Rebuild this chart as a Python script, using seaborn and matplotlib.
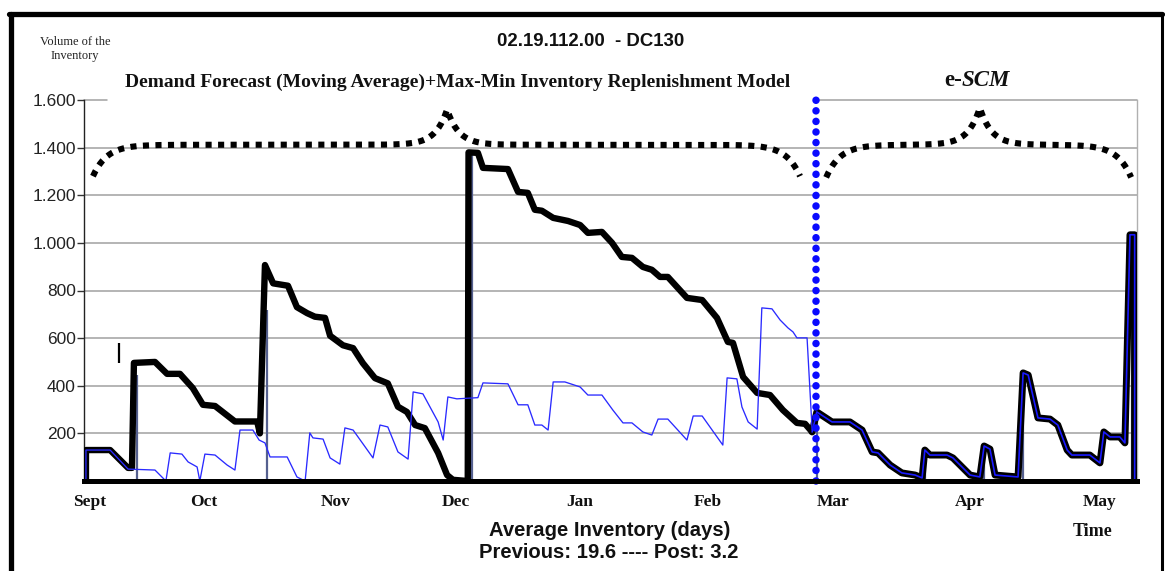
import numpy as np
import pandas as pd
import matplotlib
matplotlib.use("Agg")
import matplotlib.pyplot as plt
import seaborn as sns
from matplotlib.lines import Line2D

# ---------------- data (day index from start of September) ----------------
month_labels = ["Sept", "Oct", "Nov", "Dec", "Jan", "Feb", "Mar", "Apr", "May"]
month_pos = [1.5, 30.8, 64.6, 95.4, 127.2, 160.0, 192.0, 227.2, 260.5]

y_ticks = [200, 400, 600, 800, 1000, 1200, 1400, 1600]
y_labels = ["200", "400", "600", "800", "1.000", "1.200", "1.400", "1.600"]

# inventory before e-SCM (thick black)
pre_day = [0.5, 0.5, 6.7, 11.3, 12.3, 12.8, 18.2, 21.3, 24.6, 27.9, 30.5, 33.6,
           38.7, 44.4, 45.1, 46.4, 48.5, 52.3, 54.6, 57.2, 59.2, 61.8, 63.1,
           66.4, 69.0, 71.5, 74.6, 77.9, 80.5, 82.8, 84.9, 87.4, 90.8, 93.1,
           94.6, 98.4, 98.6, 101.0, 102.3, 108.7, 111.3, 113.8, 115.6, 117.4,
           120.3, 124.1, 127.2, 129.2, 132.8, 135.4, 137.9, 140.5, 143.3,
           145.6, 147.7, 149.7, 154.6, 158.5, 162.3, 165.1, 166.4, 169.0,
           172.6, 175.9, 179.2, 182.8, 184.9, 186.7]
pre_inv = [0, 130, 130, 55, 55, 496, 500, 450, 450, 390, 320, 315,
           250, 250, 200, 907, 830, 820, 730, 705, 690, 685, 610,
           570, 558, 495, 432, 410, 312, 290, 235, 222, 118, 25,
           5, 0, 1380, 1378, 1315, 1310, 1214, 1210, 1139, 1135,
           1105, 1092, 1075, 1042, 1046, 1000, 941, 937, 899,
           887, 857, 857, 769, 760, 685, 584, 580, 437,
           370, 361, 298, 244, 240, 206]

# inventory with e-SCM (black with blue core)
post_day = [186.7, 187.9, 191.8, 196.4, 199.5, 202.1, 203.6, 206.7, 209.7,
            213.1, 214.9, 215.6, 216.9, 221.3, 222.8, 227.2, 229.7, 230.8,
            232.3, 233.6, 239.5, 240.8, 242.1, 244.6, 247.7, 249.7, 252.1,
            253.3, 257.9, 260.5, 261.5, 263.1, 265.6, 266.9, 268.2, 269.4,
            269.4]
post_inv = [206, 290, 248, 248, 214, 122, 118, 67, 34,
            25, 13, 130, 109, 109, 97, 25, 17, 147,
            134, 25, 17, 454, 445, 265, 260, 235, 130,
            109, 109, 76, 206, 185, 185, 160, 1034, 1034,
            0]

# thin blue series
dem_day = [0.5, 0.5, 6.7, 11.3, 18.2, 21.0, 22.1, 25.1, 26.7, 29.0, 29.7,
           31.0, 33.6, 36.7, 38.7, 40.0, 43.3, 44.9, 46.4, 47.7, 52.1, 54.6,
           56.7, 57.9, 58.7, 61.3, 63.1, 65.6, 66.9, 69.0, 72.1, 74.1, 75.9,
           77.9, 80.5, 83.1, 84.4, 86.9, 90.8, 92.1, 93.3, 95.6, 101.0, 102.3,
           108.7, 111.3, 113.8, 115.6, 117.4, 119.0, 120.3, 123.3, 127.2,
           129.2, 132.8, 135.6, 138.2, 140.5, 143.3, 145.6, 147.2, 149.7,
           154.6, 156.2, 158.5, 161.8, 163.8, 164.9, 167.4, 168.7, 170.3,
           172.6, 173.8, 176.4, 178.5, 180.5, 181.8, 182.8, 185.4, 186.7]
dem_inv = [0, 130, 130, 50, 46, 0, 118, 113, 80, 59, 0,
           113, 109, 67, 46, 214, 214, 172, 160, 101, 101, 17,
           0, 202, 181, 176, 97, 71, 223, 214, 143, 97, 235,
           227, 122, 92, 374, 366, 248, 172, 353, 345, 350, 412,
           408, 320, 320, 235, 235, 214, 416, 416, 395,
           361, 361, 298, 244, 244, 206, 193, 260, 260,
           172, 273, 273, 197, 151, 433, 429, 311, 248,
           218, 727, 723, 676, 643, 626, 601, 601, 214]

# replenishment receipts (thin vertical bars)
rec_day = [13.6, 46.8, 99.6, 187.9, 215.6, 230.8, 240.8, 268.6]
rec_qty = [445, 718, 1380, 290, 130, 147, 454, 900]

switch_day = 187.7   # start of e-SCM
cursor_day = [9.0]
cursor_lo = [496]
cursor_hi = [580]

# brace parameters: start, end, middle, end level, plateau, peak
braces = [
    dict(x0=2.3, x1=183.6, xm=93.1, y_end=1280, y_lvl=1412, y_peak=1560),
    dict(x0=190.3, x1=268.5, xm=229.7, y_end=1275, y_lvl=1412, y_peak=1568),
]

# ---------------- figure ----------------
W, H = 1165, 571
sns.set_theme(style="white")
plt.rcParams["font.family"] = ["Liberation Sans", "DejaVu Sans"]

fig = plt.figure(figsize=(W / 100, H / 100), dpi=100)
fig.patch.set_facecolor("white")

def fx(px):
    return px / W

def fy(py):
    return 1 - py / H

ax = fig.add_axes([fx(84), fy(481), fx(1137) - fx(84), fy(100) - fy(481)])
ax.set_facecolor("white")
ax.set_xlim(0, 270)
ax.set_ylim(0, 1600)

# grid lines
for v in y_ticks[:-1]:
    ax.axhline(v, color="#a0a0a0", lw=1.1, zorder=0)
ax.plot([0, 5.9], [1600, 1600], color="#a0a0a0", lw=1.1, zorder=0, clip_on=False)
ax.plot([switch_day, 270], [1600, 1600], color="#a0a0a0", lw=1.1, zorder=0, clip_on=False)

# receipts
ax.vlines(rec_day, 0, rec_qty, color="#55608f", lw=1.6, zorder=2)

# series
df_pre = pd.DataFrame({"day": pre_day, "inv": pre_inv})
df_post = pd.DataFrame({"day": post_day, "inv": post_inv})
df_dem = pd.DataFrame({"day": dem_day, "inv": dem_inv})

sns.lineplot(data=df_pre, x="day", y="inv", sort=False, estimator=None,
             color="black", lw=4.6, ax=ax, zorder=3,
             solid_joinstyle="round", solid_capstyle="butt")
sns.lineplot(data=df_post, x="day", y="inv", sort=False, estimator=None,
             color="black", lw=5.0, ax=ax, zorder=3, solid_joinstyle="round")
sns.lineplot(data=df_post, x="day", y="inv", sort=False, estimator=None,
             color="#1a1aff", lw=1.2, ax=ax, zorder=4, solid_joinstyle="round")
sns.lineplot(data=df_dem, x="day", y="inv", sort=False, estimator=None,
             color="#2a2aff", lw=0.95, ax=ax, zorder=4)

# curly braces (dotted)
for b in braces:
    xs = np.linspace(b["x0"], b["x1"], 600)
    d = b["y_lvl"] - b["y_end"]
    ys = (b["y_lvl"]
          - d * np.exp(-(xs - b["x0"]) / 3.6)
          - d * np.exp(-(b["x1"] - xs) / 3.6)
          + (b["y_peak"] - b["y_lvl"]) * np.exp(-np.abs(xs - b["xm"]) / 3.0))
    ax.plot(xs, ys, color="black", lw=4.4, linestyle=(0, (1.0, 1.05)),
            dash_capstyle="butt", zorder=5, clip_on=False)

# e-SCM switch line
ax.plot([switch_day, switch_day], [0, 1610], color="#0a0aff", lw=5.4,
        linestyle=(0, (0.01, 1.4)), dash_capstyle="round", zorder=6,
        clip_on=False)

# cursor mark
ax.vlines(cursor_day, cursor_lo, cursor_hi, color="black", lw=1.6, zorder=5)

# axes styling
ax.set_xlabel("")
ax.set_ylabel("")
ax.set_xticks(month_pos)
ax.set_xticklabels(month_labels, family="Liberation Serif", weight="bold",
                   fontsize=12.5, color="#111111")
ax.set_yticks(y_ticks)
ax.set_yticklabels(y_labels, family="Liberation Sans", fontsize=12.5,
                   color="#222222")
ax.tick_params(axis="x", length=0, pad=9)
ax.tick_params(axis="y", length=5, width=1, color="#333333", pad=1,
               direction="out", left=True)
ax.spines["top"].set_visible(False)
ax.spines["left"].set_color("#222222")
ax.spines["left"].set_linewidth(1.0)
ax.spines["right"].set_color("#b0b0b0")
ax.spines["right"].set_linewidth(1.0)
ax.spines["bottom"].set_color("black")
ax.spines["bottom"].set_linewidth(3.6)
ax.spines["bottom"].set_zorder(7)

# texts
fig.text(fx(75), fy(49), "Volume of the\nInventory", ha="center", va="center",
         family="Liberation Serif", fontsize=9, linespacing=1.2, color="#222222")
fig.text(fx(591), fy(42), "02.19.112.00  - DC130", ha="center", va="center",
         family="Liberation Sans", weight="bold", fontsize=13.4, color="#111111")
fig.text(fx(458), fy(82),
         "Demand Forecast (Moving Average)+Max-Min Inventory Replenishment Model",
         ha="center", va="center", family="Liberation Serif", weight="bold",
         fontsize=14, color="#111111")
fig.text(fx(962), fy(80), "e-", ha="right", va="center",
         family="Liberation Serif", weight="bold", fontsize=16.5, color="#111111")
fig.text(fx(962), fy(80), "SCM", ha="left", va="center",
         family="Liberation Serif", weight="bold", style="italic",
         fontsize=16.5, color="#111111")
fig.text(fx(610), fy(531), "Average Inventory (days)", ha="center", va="center",
         family="Liberation Sans", weight="bold", fontsize=14.6, color="#111111")
fig.text(fx(609), fy(552), "Previous: 19.6 ---- Post: 3.2", ha="center",
         va="center", family="Liberation Sans", weight="bold", fontsize=14.6,
         color="#111111")
fig.text(fx(1093), fy(531), "Time", ha="center", va="center",
         family="Liberation Serif", weight="bold", fontsize=13, color="#111111")

# outer frame
fig.add_artist(Line2D([fx(10.5), fx(10.5)], [fy(13.5), -0.05], lw=3.8,
                      color="black", transform=fig.transFigure))
fig.add_artist(Line2D([fx(9), fx(1162)], [fy(13.5), fy(13.5)], lw=3.8,
                      color="black", transform=fig.transFigure))
fig.add_artist(Line2D([fx(1161.5), fx(1161.5)], [fy(13.5), -0.05], lw=2.2,
                      color="black", transform=fig.transFigure))

fig.savefig("out.png", dpi=100, facecolor="white")
